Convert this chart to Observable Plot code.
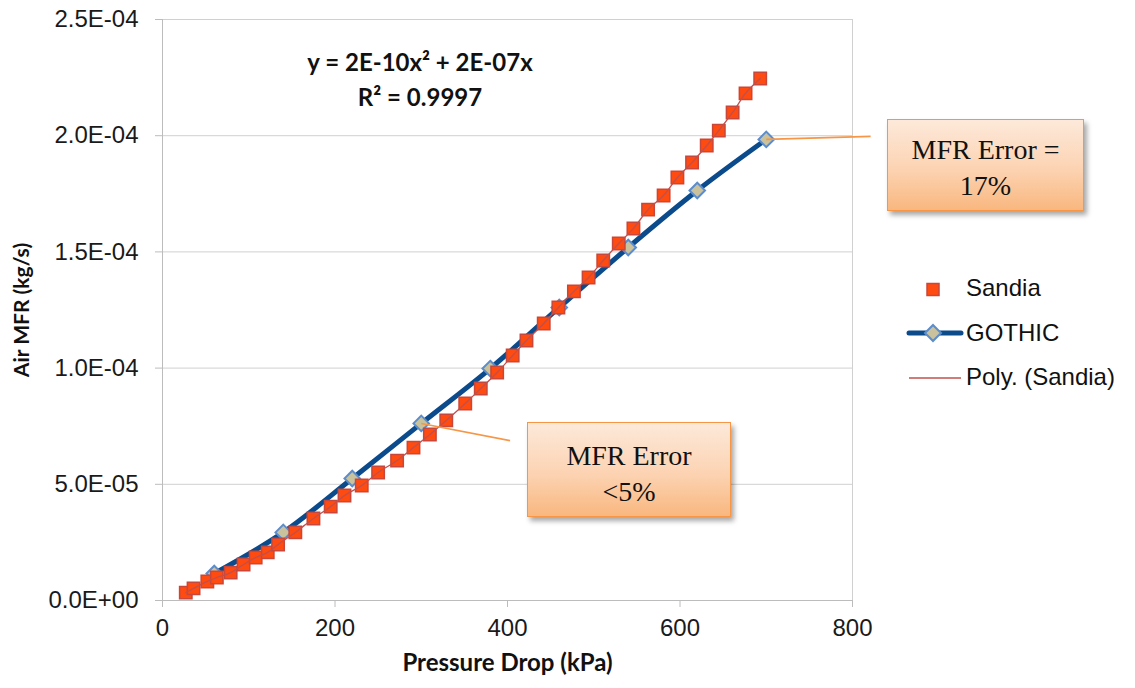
<!DOCTYPE html>
<html>
<head>
<meta charset="utf-8">
<script src="https://cdn.jsdelivr.net/npm/d3@7"></script>
<script src="https://cdn.jsdelivr.net/npm/@observablehq/plot@0.6"></script>
<style>
  html, body { margin: 0; padding: 0; background: #fff; }
  #wrap { position: relative; width: 1135px; height: 688px; overflow: hidden; }
  .callout {
    position: absolute; box-sizing: border-box;
    border: 1.5px solid #f79646;
    background: linear-gradient(to bottom, #fde9da 0%, #fcd3b2 55%, #f9b77f 100%);
    box-shadow: 3px 4px 5px rgba(0,0,0,0.35);
    font-family: "Liberation Serif", "Times New Roman", serif;
    font-size: 28px; color: #111; text-align: center; line-height: 36px;
  }
  #eq {
    position: absolute; font-family: Lato, "Open Sans", sans-serif; font-weight: bold;
    font-size: 24px; color: #111; text-align: center; line-height: 35px;
  }
  #legend { position: absolute; left: 900px; top: 268px; }
</style>
</head>
<body>
<div id="wrap"></div>
<script>
// ---- data ----
const sandiaX = [27, 36, 52, 63, 79, 94, 108, 122, 134, 154, 175, 195, 211, 231, 250, 272, 291, 310, 329, 351,
                 369, 388, 406, 422, 442, 459, 477, 494, 511, 529, 546, 563, 581, 597, 614, 631, 645, 661, 676, 693];
const sandiaY = [3.4e-6, 5.2e-6, 8.2e-6, 9.9e-6, 1.2e-5, 1.55e-5, 1.85e-5, 2.07e-5, 2.41e-5, 2.93e-5,
                 3.53e-5, 4.04e-5, 4.52e-5, 4.95e-5, 5.51e-5, 6.02e-5, 6.58e-5, 7.14e-5, 7.75e-5, 8.48e-5,
                 9.12e-5, 9.81e-5, 1.054e-4, 1.119e-4, 1.192e-4, 1.261e-4, 1.330e-4, 1.390e-4, 1.463e-4, 1.536e-4,
                 1.601e-4, 1.682e-4, 1.743e-4, 1.820e-4, 1.885e-4, 1.958e-4, 2.022e-4, 2.100e-4, 2.182e-4, 2.246e-4];
const gothicX = [60, 140, 220, 300, 380, 460, 540, 620, 700];
const gothicY = [1.16e-5, 2.93e-5, 5.25e-5, 7.62e-5, 9.98e-5, 1.261e-4, 1.519e-4, 1.764e-4, 1.984e-4];
const xTicks = [0, 200, 400, 600, 800];
const yTicks = [0, 5e-5, 1e-4, 1.5e-4, 2e-4, 2.5e-4];
const yTickLabels = ["0.0E+00", "5.0E-05", "1.0E-04", "1.5E-04", "2.0E-04", "2.5E-04"];
const xTitle = "Pressure Drop (kPa)";
const yTitle = "Air MFR (kg/s)";
const equationLines = ["y = 2E-10x\u00B2 + 2E-07x", "R\u00B2 = 0.9997"];
const legendLabels = ["Sandia", "GOTHIC", "Poly. (Sandia)"];
// callouts: leader from a GOTHIC point to an anchor near the box
const calloutLines = [["MFR Error =", "17%"], ["MFR Error", "<5%"]];
const calloutFromIndex = [8, 3];
const calloutToX = [821, 403];
const calloutToY = [1.997e-4, 6.88e-5];

// ---- tables ----
const sandia = sandiaX.map((x, i) => ({x, y: sandiaY[i]}));
const gothic = gothicX.map((x, i) => ({x, y: gothicY[i]}));
const leaders = calloutFromIndex.map((gi, i) => ({x1: gothicX[gi], y1: gothicY[gi], x2: calloutToX[i], y2: calloutToY[i]}));

const W = 1135, H = 688;
const chart = Plot.plot({
  width: W, height: H,
  marginLeft: 162, marginRight: 283, marginTop: 19, marginBottom: 88,
  x: {domain: [0, 800]},
  y: {domain: [0, 2.5e-4]},
  style: {fontFamily: "'Liberation Sans', Arial, sans-serif", fontSize: "24px", color: "#1a1a1a", background: "#fff"},
  marks: [
    Plot.ruleY(yTicks.slice(1), {stroke: "#d0d0d0", strokeWidth: 1}),
    Plot.ruleX([800], {stroke: "#d0d0d0", strokeWidth: 1}),
    Plot.ruleX([0], {stroke: "#bcbcbc", strokeWidth: 1}),
    Plot.ruleY([0], {stroke: "#bcbcbc", strokeWidth: 1}),
    Plot.axisY({ticks: yTicks, tickFormat: (d, i) => yTickLabels[i], tickSize: 7, tickPadding: 17, stroke: "#bcbcbc", label: null}),
    Plot.axisX({ticks: xTicks, tickFormat: d => String(d), tickSize: 7, tickPadding: 11, stroke: "#bcbcbc", label: null}),
    Plot.text([yTitle], {frameAnchor: "left", textAnchor: "middle", rotate: -90, dx: -140, fontWeight: "bold", fontSize: 21,
      fontFamily: "Lato, 'Open Sans', sans-serif", fill: "#111"}),
    Plot.text([xTitle], {frameAnchor: "bottom", textAnchor: "middle", dy: 70, fontWeight: "bold", fontSize: 24,
      fontFamily: "Lato, 'Open Sans', sans-serif", fill: "#111"}),
    Plot.line(gothic, {x: "x", y: "y", stroke: "#0b4a8b", strokeWidth: 5, curve: "monotone-x"}),
    Plot.dot(gothic, {x: "x", y: "y", symbol: "diamond2", r: 7, fill: "#c9c29c", stroke: "#5b8ccc", strokeWidth: 2}),
    Plot.dot(sandia, {x: "x", y: "y", symbol: "square", r: 7, fill: "#ff4a10", stroke: "#c8473a", strokeWidth: 1.5}),
    Plot.line(sandia, {x: "x", y: "y", stroke: "#c0504d", strokeWidth: 1.3, curve: "monotone-x"}),
    Plot.link(leaders, {x1: "x1", y1: "y1", x2: "x2", y2: "y2", stroke: "#f79646", strokeWidth: 1.6})
  ]
});
const wrap = document.getElementById("wrap");
wrap.appendChild(chart);

// equation
const eq = document.createElement("div");
eq.id = "eq";
eq.style.left = "270px"; eq.style.width = "300px"; eq.style.top = "44px";
eq.innerHTML = equationLines.join("<br>");
wrap.appendChild(eq);

// callout boxes
const boxPos = [
  {left: 887, top: 119, width: 197, height: 92, pad: 12},
  {left: 527, top: 422, width: 204, height: 95, pad: 15}
];
calloutLines.forEach((lines, i) => {
  const b = document.createElement("div");
  b.className = "callout";
  const p = boxPos[i];
  Object.assign(b.style, {left: p.left + "px", top: p.top + "px", width: p.width + "px", height: p.height + "px", paddingTop: p.pad + "px"});
  lines.forEach((t, j) => { if (j) b.appendChild(document.createElement("br")); b.appendChild(document.createTextNode(t)); });
  wrap.appendChild(b);
});

// legend
const lg = document.createElement("div");
lg.id = "legend";
const ns = "http://www.w3.org/2000/svg";
const svg = document.createElementNS(ns, "svg");
svg.setAttribute("width", 235); svg.setAttribute("height", 130);
const mk = (tag, attrs) => { const e = document.createElementNS(ns, tag); for (const k in attrs) e.setAttribute(k, attrs[k]); svg.appendChild(e); return e; };
mk("rect", {x: 27, y: 15.5, width: 12, height: 12, fill: "#ff4a10", stroke: "#c8473a", "stroke-width": 1.5});
mk("line", {x1: 9, x2: 61, y1: 65, y2: 65, stroke: "#0b4a8b", "stroke-width": 5, "stroke-linecap": "round"});
mk("path", {d: "M33,57 L41,65 L33,73 L25,65 Z", fill: "#c9c29c", stroke: "#5b8ccc", "stroke-width": 2});
mk("line", {x1: 9, x2: 61, y1: 110, y2: 110, stroke: "#c0504d", "stroke-width": 1.5});
legendLabels.forEach((t, i) => {
  const tx = mk("text", {x: 66, y: 22 + i * 44.5, "dominant-baseline": "middle", "font-family": "'Liberation Sans', Arial, sans-serif", "font-size": 24, fill: "#111"});
  tx.textContent = t;
});
lg.appendChild(svg);
wrap.appendChild(lg);
</script>
</body>
</html>
